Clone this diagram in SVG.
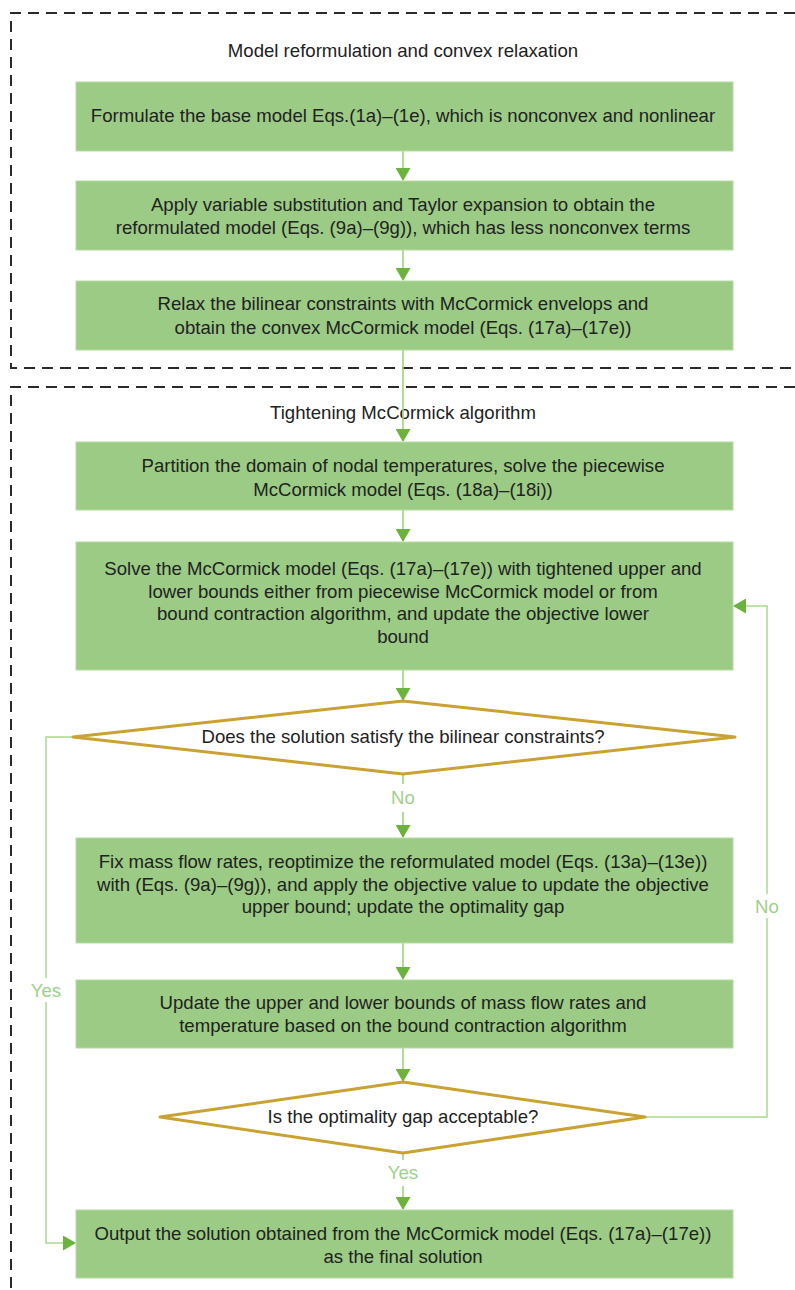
<svg xmlns="http://www.w3.org/2000/svg" width="795" height="1290" viewBox="0 0 795 1290">
<defs>
<style>
.dash{fill:none;stroke:#2a2a2a;stroke-width:2;stroke-dasharray:11 7}
.box{fill:#9bcb84;stroke:#b5dba2;stroke-width:1}
.dia{fill:#fff;stroke:#c9a232;stroke-width:3;stroke-linejoin:round}
.t{font-family:"Liberation Sans",Arial,sans-serif;font-size:18.6px;fill:#222;text-anchor:middle}
.lbl{font-family:"Liberation Sans",Arial,sans-serif;font-size:18.6px;fill:#9dd18a;text-anchor:middle}
.c{fill:none;stroke:#9dd37f;stroke-width:1.6}
.cd{fill:none;stroke:#a8d98e;stroke-width:1.5}
</style>
<marker id="ah" markerWidth="14" markerHeight="15" refX="12" refY="7.5" orient="auto" markerUnits="userSpaceOnUse">
<path d="M0,0 L13,7.5 L0,15 Z" fill="#6cb33e"/>
</marker>
</defs>
<rect width="795" height="1290" fill="#fff"/>
<g id="frames">
<path class="dash" d="M795,13 H11 V368 H795"/>
<path class="dash" d="M795,387 H11 V1290"/>
<text class="t" x="403" y="57">Model reformulation and convex relaxation</text>
<text class="t" x="403" y="419">Tightening McCormick algorithm</text>
</g>
<g id="connectors">
<path class="c" d="M403,151 V180" marker-end="url(#ah)"/>
<path class="c" d="M403,250 V280" marker-end="url(#ah)"/>
<path class="c" d="M403,350 V441" marker-end="url(#ah)"/>
<path class="c" d="M403,510 V541" marker-end="url(#ah)"/>
<path class="c" d="M403,670 V700" marker-end="url(#ah)"/>
<path class="c" d="M403,774 V784"/>
<path class="c" d="M403,812 V837" marker-end="url(#ah)"/>
<path class="c" d="M403,943 V979" marker-end="url(#ah)"/>
<path class="c" d="M403,1048 V1081" marker-end="url(#ah)"/>
<path class="c" d="M403,1153 V1160"/>
<path class="c" d="M403,1186 V1209" marker-end="url(#ah)"/>
<path class="cd" d="M645,1117 H767 V606 H734" marker-end="url(#ah)"/>
<path class="cd" d="M73,737 H46 V1243 H75" marker-end="url(#ah)"/>
<rect x="748" y="894" width="38" height="24" fill="#fff"/>
<rect x="26" y="978" width="40" height="24" fill="#fff"/>
<text class="lbl" x="403" y="804">No</text>
<text class="lbl" x="403" y="1179">Yes</text>
<text class="lbl" x="767" y="913">No</text>
<text class="lbl" x="46" y="997">Yes</text>
</g>
<g id="n1">
<rect class="box" x="76" y="82" width="657" height="69"/>
<text class="t" x="403" y="122">Formulate the base model Eqs.(1a)–(1e), which is nonconvex and nonlinear</text>
</g>
<g id="n2">
<rect class="box" x="76" y="181" width="657" height="69"/>
<text class="t" x="403" y="211">Apply variable substitution and Taylor expansion to obtain the</text>
<text class="t" x="403" y="234">reformulated model (Eqs. (9a)–(9g)), which has less nonconvex terms</text>
</g>
<g id="n3">
<rect class="box" x="76" y="281" width="657" height="69"/>
<text class="t" x="403" y="310">Relax the bilinear constraints with McCormick envelops and</text>
<text class="t" x="403" y="334">obtain the convex McCormick model (Eqs. (17a)–(17e))</text>
</g>
<g id="n4">
<rect class="box" x="76" y="442" width="657" height="68"/>
<text class="t" x="403" y="472">Partition the domain of nodal temperatures, solve the piecewise</text>
<text class="t" x="403" y="496">McCormick model (Eqs. (18a)–(18i))</text>
</g>
<g id="n5">
<rect class="box" x="76" y="542" width="657" height="128"/>
<text class="t" x="403" y="575">Solve the McCormick model (Eqs. (17a)–(17e)) with tightened upper and</text>
<text class="t" x="403" y="598">lower bounds either from piecewise McCormick model or from</text>
<text class="t" x="403" y="620">bound contraction algorithm, and update the objective lower</text>
<text class="t" x="403" y="643">bound</text>
</g>
<g id="d1">
<polygon class="dia" points="73,737 403,701 735,737 403,774"/>
<text class="t" x="403" y="743">Does the solution satisfy the bilinear constraints?</text>
</g>
<g id="n6">
<rect class="box" x="76" y="838" width="657" height="105"/>
<text class="t" x="403" y="868">Fix mass flow rates, reoptimize the reformulated model (Eqs. (13a)–(13e))</text>
<text class="t" x="403" y="891">with (Eqs. (9a)–(9g)), and apply the objective value to update the objective</text>
<text class="t" x="403" y="913">upper bound; update the optimality gap</text>
</g>
<g id="n7">
<rect class="box" x="76" y="980" width="657" height="68"/>
<text class="t" x="403" y="1009">Update the upper and lower bounds of mass flow rates and</text>
<text class="t" x="403" y="1032">temperature based on the bound contraction algorithm</text>
</g>
<g id="d2">
<polygon class="dia" points="160,1117 403,1082 645,1117 403,1153"/>
<text class="t" x="403" y="1123">Is the optimality gap acceptable?</text>
</g>
<g id="n8">
<rect class="box" x="76" y="1210" width="657" height="68"/>
<text class="t" x="403" y="1240">Output the solution obtained from the McCormick model (Eqs. (17a)–(17e))</text>
<text class="t" x="403" y="1263">as the final solution</text>
</g>
</svg>
